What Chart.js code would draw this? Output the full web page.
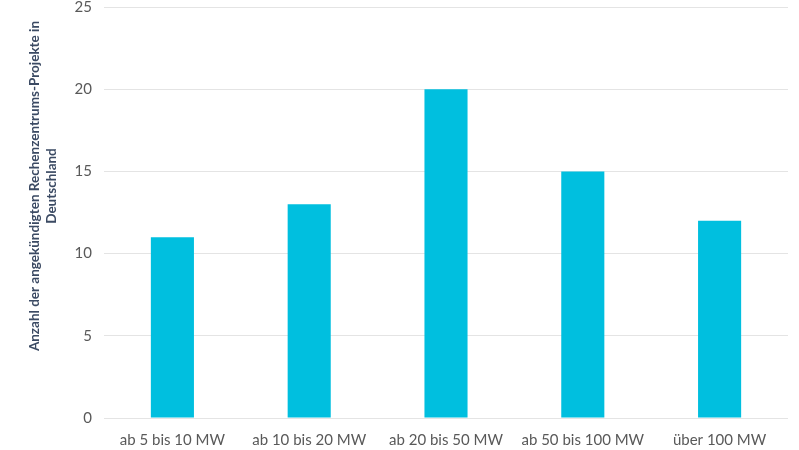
<!DOCTYPE html>
<html>
<head>
<meta charset="utf-8">
<script src="https://cdn.jsdelivr.net/npm/chart.js@4/dist/chart.umd.min.js"></script>
<style>
  html, body { margin: 0; padding: 0; background: #fff; }
  #wrap { width: 799px; height: 450px; }
</style>
</head>
<body>
<div id="wrap"><canvas id="projChart"></canvas></div>
<script>
const categories = ['ab 5 bis 10 MW', 'ab 10 bis 20 MW', 'ab 20 bis 50 MW', 'ab 50 bis 100 MW', 'über 100 MW'];
const projectCounts = [11, 13, 20, 15, 12];
const titleLines = ['Anzahl der angekündigten Rechenzentrums-Projekte in', 'Deutschland'];

const fontFamily = 'Lato, "Open Sans", sans-serif';

// y axis title, drawn by hand so it can sit a bit above the middle like in the original
const sideTitle = {
  id: 'sideTitle',
  afterDraw(chart) {
    let ctx = chart.ctx;
    ctx.save();
    ctx.fillStyle = '#3b4a63';
    ctx.font = 'bold 13.5px ' + fontFamily;
    ctx.textAlign = 'center';
    ctx.textBaseline = 'middle';
    ctx.translate(0, 186);
    ctx.rotate(-Math.PI / 2);
    ctx.fillText(titleLines[0], 0, 35);
    ctx.fillText(titleLines[1], 0, 52);
    ctx.restore();
  }
};

let ctx = document.getElementById('projChart').getContext('2d');
let chart = new Chart(ctx, {
  type: 'bar',
  data: {
    labels: categories,
    datasets: [{
      data: projectCounts,
      backgroundColor: '#00bfdf',
      barPercentage: 0.315,
      categoryPercentage: 1
    }]
  },
  options: {
    responsive: true,
    maintainAspectRatio: false,
    animation: false,
    layout: { padding: { top: 7, right: 11, left: 0, bottom: 0 } },
    plugins: {
      legend: { display: false },
      tooltip: { enabled: false }
    },
    scales: {
      x: {
        grid: { display: false },
        border: { display: false },
        ticks: { color: '#595959', font: { family: fontFamily, size: 15 }, padding: 5 },
        afterFit(scale) { scale.height = 32; }
      },
      y: {
        min: 0,
        max: 25,
        ticks: { stepSize: 5, color: '#595959', font: { family: fontFamily, size: 15 }, padding: 12 },
        grid: { color: '#e4e4e4', lineWidth: 1, drawTicks: false },
        border: { display: false },
        afterFit(scale) { scale.width = 104; scale.paddingTop = 0; }
      }
    }
  },
  plugins: [sideTitle]
});
</script>
</body>
</html>
